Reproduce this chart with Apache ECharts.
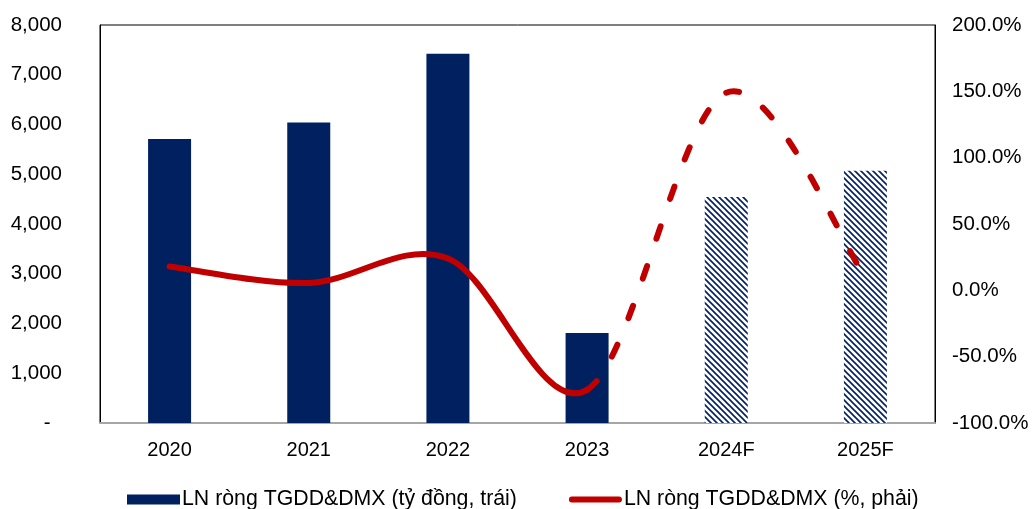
<!DOCTYPE html>
<html><head><meta charset="utf-8">
<script src="https://cdn.jsdelivr.net/npm/echarts@6/dist/echarts.min.js"></script>
<style>html,body{margin:0;padding:0;background:#fff}#c{width:1033px;height:509px}</style>
</head><body><div id="c"></div>
<script>
const categories = ['2020','2021','2022','2023','2024F','2025F'];
const profitValues = [5710, 6040, 7420, 1810, 4545, 5070];
const growthValues = [18, 5.5, 24, -75, 149, 10];
const forecastFrom = 3; // segments starting at this index are dashed (forecast)
const barName = 'LN ròng TGDD&DMX (tỷ đồng, trái)';
const lineName = 'LN ròng TGDD&DMX (%, phải)';

const NAVY = '#002060', RED = '#C00000';
const FONT = '"Liberation Sans", Arial, sans-serif';
const LINE_W = 6;
const DASH = [13, 29];

function hatch(){
  const c = document.createElement('canvas');
  c.width = 6; c.height = 6;
  const g = c.getContext('2d');
  g.fillStyle = '#fff'; g.fillRect(0,0,6,6);
  g.strokeStyle = NAVY; g.lineWidth = 1.6;
  g.beginPath();
  g.moveTo(-1,-1); g.lineTo(7,7);
  g.moveTo(-4,2); g.lineTo(4,10);
  g.moveTo(2,-4); g.lineTo(10,4);
  g.stroke();
  return c;
}
const pat = {image: hatch(), repeat: 'repeat'};

const barData = profitValues.map((v,i)=> i > forecastFrom ? {value:v, itemStyle:{color:pat}} : v);
// one item per line segment (from point i to point i+1)
const segData = growthValues.slice(0, -1).map((v,i)=> [i, v, growthValues[i+1]]);

// smoothed segment (Catmull-Rom style control points, like the spreadsheet's smoothed line)
function renderSegment(params, api){
  const i = api.value(0);
  const n = growthValues.length;
  const P = k => api.coord([Math.max(0, Math.min(n-1, k)), growthValues[Math.max(0, Math.min(n-1, k))]]);
  const p0 = P(i-1), p1 = P(i), p2 = P(i+1), p3 = P(i+2);
  const c1 = [p1[0] + (p2[0]-p0[0])/6, p1[1] + (p2[1]-p0[1])/6];
  const c2 = [p2[0] - (p3[0]-p1[0])/6, p2[1] - (p3[1]-p1[1])/6];
  const dashed = i >= forecastFrom;
  return {
    type:'bezierCurve',
    shape:{x1:p1[0], y1:p1[1], cpx1:c1[0], cpy1:c1[1], cpx2:c2[0], cpy2:c2[1], x2:p2[0], y2:p2[1]},
    style:{stroke:RED, fill:'none', lineWidth:LINE_W, lineCap:'round', lineDash: dashed ? DASH : null}
  };
}

const chart = echarts.init(document.getElementById('c'), null, {renderer:'canvas'});
chart.setOption({
  animation:false,
  textStyle:{fontFamily:FONT, color:'#000'},
  grid:{left:100, right:98, top:25, bottom:86, show:true, borderColor:'#000', borderWidth:1},
  legend:{
    left:122, top:484, itemWidth:53, itemHeight:10, itemGap:52,
    textStyle:{fontFamily:FONT, fontSize:21.3, color:'#000', padding:[0,0,0,-3]},
    data:[
      {name:barName, icon:'rect', itemStyle:{color:NAVY}},
      {name:lineName, icon:'path://M3,0H52A3,3 0 0 1 52,6H3A3,3 0 0 1 3,0Z', itemStyle:{color:RED}}
    ]
  },
  xAxis:{
    type:'category', data:categories,
    axisLine:{show:true, lineStyle:{color:'#A6A6A6', width:2}},
    axisTick:{show:false},
    axisLabel:{fontFamily:FONT, fontSize:20, color:'#000', margin:17}
  },
  yAxis:[
    {type:'value', min:0, max:8000, interval:1000,
     axisLine:{show:true, lineStyle:{color:'#000', width:1}}, axisTick:{show:false}, splitLine:{show:false},
     axisLabel:{fontFamily:FONT, fontSize:20.5, color:'#000', margin:38,
       formatter:v=> v===0 ? '-  ' : v.toLocaleString('en-US')}},
    {type:'value', min:-100, max:200, interval:50,
     axisLine:{show:true, lineStyle:{color:'#000', width:1}}, axisTick:{show:false}, splitLine:{show:false},
     axisLabel:{fontFamily:FONT, fontSize:20.5, color:'#000', margin:17,
       formatter:v=> v.toFixed(1)+'%'}}
  ],
  series:[
    {name:barName, type:'bar', data:barData, barWidth:43, itemStyle:{color:NAVY}, z:1},
    {name:lineName, type:'custom', yAxisIndex:1, data:segData, encode:{x:0, y:1},
     renderItem:renderSegment, itemStyle:{color:RED}, z:3, clip:false}
  ]
});
</script></body></html>
